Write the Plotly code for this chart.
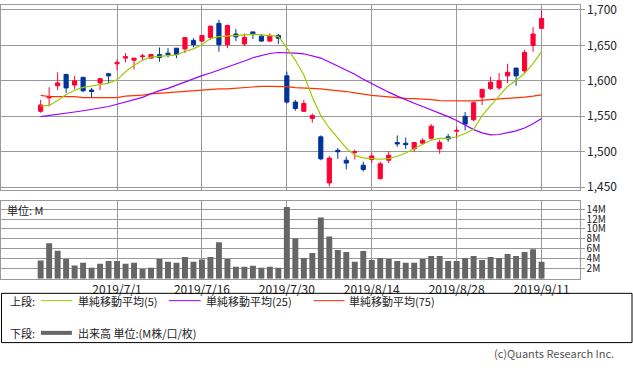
import plotly.graph_objects as go

# ---------------- data ----------------
dates = [
    "2019/6/18", "2019/6/19", "2019/6/20", "2019/6/21", "2019/6/24", "2019/6/25", "2019/6/26", "2019/6/27", "2019/6/28",
    "2019/7/1", "2019/7/2", "2019/7/3", "2019/7/4", "2019/7/5", "2019/7/8", "2019/7/9", "2019/7/10", "2019/7/11",
    "2019/7/12", "2019/7/16", "2019/7/17", "2019/7/18", "2019/7/19", "2019/7/22", "2019/7/23", "2019/7/24",
    "2019/7/25", "2019/7/26", "2019/7/29", "2019/7/30", "2019/7/31",
    "2019/8/1", "2019/8/2", "2019/8/5", "2019/8/6", "2019/8/7", "2019/8/8", "2019/8/9", "2019/8/13", "2019/8/14",
    "2019/8/15", "2019/8/16", "2019/8/19", "2019/8/20", "2019/8/21", "2019/8/22", "2019/8/23", "2019/8/26",
    "2019/8/27", "2019/8/28", "2019/8/29", "2019/8/30",
    "2019/9/2", "2019/9/3", "2019/9/4", "2019/9/5", "2019/9/6", "2019/9/9", "2019/9/10", "2019/9/11",
]

open_ = [1557, 1576, 1593, 1609, 1594, 1605, 1587, 1597, 1610, 1624,
         1632, 1629, 1634, 1632, 1637, 1639, 1646, 1645, 1657, 1656,
         1661, 1681, 1651, 1666, 1652, 1669, 1663, 1656, 1664, 1607,
         1570, 1557, 1547, 1521, 1456, 1502, 1488, 1499, 1481, 1489,
         1462, 1488, 1513, 1512, 1504, 1512, 1519, 1504, 1521, 1529,
         1550, 1545, 1577, 1589, 1590, 1607, 1618, 1614, 1650, 1674]
high = [1573, 1591, 1612, 1610, 1607, 1605, 1590, 1604, 1611, 1630,
        1639, 1632, 1638, 1638, 1647, 1646, 1646, 1661, 1660, 1664,
        1678, 1686, 1679, 1673, 1667, 1669, 1666, 1667, 1666, 1613,
        1573, 1573, 1554, 1523, 1494, 1505, 1493, 1503, 1486, 1498,
        1486, 1501, 1523, 1520, 1513, 1519, 1539, 1517, 1525, 1535,
        1556, 1571, 1588, 1606, 1611, 1624, 1618, 1644, 1676, 1699]
low = [1555, 1564, 1587, 1583, 1588, 1584, 1577, 1587, 1597, 1615,
       1626, 1616, 1628, 1631, 1627, 1633, 1632, 1639, 1647, 1655,
       1658, 1641, 1646, 1656, 1649, 1659, 1655, 1655, 1652, 1568,
       1558, 1556, 1541, 1488, 1451, 1490, 1475, 1489, 1472, 1484,
       1461, 1484, 1507, 1504, 1500, 1510, 1517, 1497, 1514, 1519,
       1530, 1543, 1566, 1587, 1587, 1597, 1593, 1611, 1641, 1674]
close = [1566, 1578, 1597, 1590, 1600, 1586, 1585, 1603, 1607, 1626,
         1634, 1632, 1635, 1637, 1633, 1637, 1637, 1661, 1651, 1664,
         1677, 1651, 1678, 1662, 1661, 1666, 1656, 1664, 1660, 1570,
         1561, 1568, 1551, 1490, 1491, 1500, 1484, 1500, 1475, 1494,
         1483, 1495, 1511, 1510, 1513, 1516, 1536, 1513, 1518, 1530,
         1539, 1569, 1588, 1598, 1600, 1612, 1607, 1640, 1666, 1688]

ma5 = [1564.4, 1565.3, 1572.2, 1580.7, 1586.7, 1590.8, 1592.7, 1594.5, 1596.8, 1601.4,
       1612.8, 1622.0, 1628.9, 1633.5, 1634.9, 1635.8, 1636.7, 1641.3, 1645.0, 1650.9,
       1659.6, 1662.4, 1663.3, 1664.2, 1665.1, 1665.6, 1664.7, 1663.3, 1662.8, 1646.5,
       1628.9, 1608.3, 1577.1, 1550.9, 1533.5, 1519.7, 1505.0, 1494.9, 1491.3, 1490.4,
       1489.4, 1490.4, 1493.6, 1498.2, 1504.5, 1510.6, 1516.5, 1518.8, 1518.8, 1521.1,
       1525.7, 1531.7, 1550.9, 1565.0, 1578.0, 1592.2, 1600.5, 1610.6, 1624.3, 1641.3]
ma25 = [1549.5, 1550.9, 1552.7, 1554.1, 1556.0, 1557.8, 1559.6, 1561.5, 1563.8, 1567.0,
        1570.5, 1573.9, 1576.6, 1581.7, 1586.2, 1589.4, 1594.0, 1598.6, 1602.8, 1607.3,
        1611.0, 1615.1, 1619.7, 1624.3, 1628.0, 1632.6, 1635.8, 1638.5, 1639.9, 1639.9,
        1639.0, 1638.1, 1634.9, 1632.1, 1626.6, 1621.1, 1615.1, 1609.2, 1602.3, 1595.9,
        1589.9, 1584.0, 1578.4, 1572.9, 1568.3, 1563.8, 1559.2, 1554.1, 1549.5, 1544.0,
        1537.2, 1531.2, 1526.6, 1523.9, 1524.3, 1527.3, 1529.4, 1533.5, 1539.4, 1546.8]
ma75 = [1579.5, 1577.7, 1577.7, 1577.7, 1577.7, 1576.3, 1576.3, 1576.3, 1576.3, 1576.3,
        1578.4, 1578.9, 1579.8, 1581.7, 1582.6, 1583.5, 1584.4, 1585.8, 1586.7, 1587.2,
        1587.6, 1588.5, 1588.5, 1589.4, 1590.8, 1591.3, 1592.2, 1592.2, 1592.2, 1591.7,
        1590.4, 1589.9, 1588.5, 1588.5, 1587.2, 1586.2, 1584.9, 1583.0, 1580.7, 1579.4,
        1578.4, 1577.1, 1576.1, 1575.2, 1574.8, 1574.3, 1573.4, 1572.0, 1571.6, 1571.6,
        1571.6, 1571.6, 1572.5, 1573.4, 1573.9, 1574.8, 1575.2, 1577.1, 1578.4, 1580.3]

volume_m = [3.64, 7.13, 5.6, 3.98, 2.66, 3.19, 2.2, 2.99, 3.58, 3.58,
            2.99, 3.19, 1.94, 2.2, 3.98, 3.39, 3.19, 4.37, 3.39, 3.84,
            4.37, 7.32, 3.98, 2.4, 2.4, 2.6, 2.2, 2.4, 2.2, 14.4,
            8.1, 4.17, 5.16, 12.3, 8.5, 5.75, 5.35, 3.39, 5.55, 3.78,
            4.17, 3.98, 3.58, 3.19, 3.19, 3.98, 4.57, 4.57, 3.58, 3.58,
            4.17, 4.57, 3.78, 4.37, 4.17, 4.96, 4.57, 5.35, 5.94, 3.39]

x_tick_dates = ["2019/7/1", "2019/7/16", "2019/7/30", "2019/8/14", "2019/8/28", "2019/9/11"]
price_ticks = [1450, 1500, 1550, 1600, 1650, 1700]
vol_ticks = [2, 4, 6, 8, 10, 12, 14]
vol_tick_labels = ["2M", "4M", "6M", "8M", "10M", "12M", "14M"]

# ---------------- styling ----------------
W, H = 633, 371
FONT = "Noto Sans CJK JP"
RED = "#ff0033"
BLUE = "#003399"
GRID = "#999999"
TXT = "#222222"

def py(px):
    return 1 - px / H

def pxx(px):
    return px / W

fig = go.Figure()

fig.add_trace(go.Candlestick(
    x=dates, open=open_, high=high, low=low, close=close,
    increasing=dict(line=dict(color=RED, width=1), fillcolor=RED),
    decreasing=dict(line=dict(color=BLUE, width=1), fillcolor=BLUE),
    whiskerwidth=0, xaxis="x", yaxis="y", showlegend=False, hoverinfo="skip",
))
fig.add_trace(go.Scatter(x=dates, y=ma75, mode="lines", line=dict(color="#ff3300", width=1.2),
                         xaxis="x", yaxis="y", showlegend=False, hoverinfo="skip"))
fig.add_trace(go.Scatter(x=dates, y=ma25, mode="lines", line=dict(color="#9900ff", width=1.2),
                         xaxis="x", yaxis="y", showlegend=False, hoverinfo="skip"))
fig.add_trace(go.Scatter(x=dates, y=ma5, mode="lines", line=dict(color="#99cc00", width=1.2),
                         xaxis="x", yaxis="y", showlegend=False, hoverinfo="skip"))

fig.add_trace(go.Bar(x=dates, y=volume_m, marker=dict(color="#666666", line=dict(width=0)),
                     width=0.7, xaxis="x2", yaxis="y2", showlegend=False, hoverinfo="skip"))

xdom = [0, 579.5 / W]
xrange_ = [-4.67, 63.48]

common_x = dict(
    type="category", categoryorder="array", categoryarray=dates,
    range=xrange_, domain=xdom, tickmode="array", tickvals=x_tick_dates,
    showgrid=True, gridcolor=GRID, gridwidth=1,
    showline=True, linecolor=GRID, linewidth=1, mirror=True,
    zeroline=False, fixedrange=True,
)

fig.update_layout(
    width=W, height=H,
    margin=dict(l=0, r=0, t=0, b=0),
    paper_bgcolor="white", plot_bgcolor="white",
    font=dict(family=FONT, size=12, color=TXT),
    showlegend=False,
    bargap=0.3,
    xaxis=dict(common_x, anchor="y", showticklabels=False, ticks="",
               rangeslider=dict(visible=False)),
    yaxis=dict(domain=[py(190), 1.0], range=[1445.5, 1706.9], side="right",
               tickmode="array", tickvals=price_ticks, tickformat=",d",
               ticks="outside", ticklen=4, tickcolor=GRID,
               ticklabeloverflow="allow",
               showgrid=True, gridcolor=GRID, gridwidth=1,
               showline=True, linecolor=GRID, linewidth=1, mirror=True,
               zeroline=False, tickfont=dict(size=12, color=TXT), anchor="x",
               fixedrange=True),
    xaxis2=dict(common_x, anchor="y2", matches="x", showticklabels=True,
                ticktext=x_tick_dates, ticks="", tickfont=dict(size=12, color=TXT)),
    yaxis2=dict(domain=[py(280.5), py(201)], range=[0, 15.6], side="right",
                tickmode="array", tickvals=vol_ticks, ticktext=vol_tick_labels,
                ticks="outside", ticklen=4, tickcolor=GRID,
                ticklabeloverflow="allow",
                showgrid=True, gridcolor=GRID, gridwidth=1,
                showline=True, linecolor=GRID, linewidth=1, mirror=True,
                zeroline=False, tickfont=dict(size=10, color=TXT), anchor="x2",
                fixedrange=True),
)

shapes = []
annotations = []

# legend box
shapes.append(dict(type="rect", xref="paper", yref="paper",
                   x0=pxx(0.5), x1=pxx(632), y0=py(346), y1=py(295.5),
                   line=dict(color="#000000", width=1), fillcolor="rgba(0,0,0,0)"))

def seg(x0, x1, y, color, width):
    shapes.append(dict(type="line", xref="paper", yref="paper",
                       x0=pxx(x0), x1=pxx(x1), y0=py(y), y1=py(y),
                       line=dict(color=color, width=width)))

def txt(x, y, s, size=11, anchor="left", color=TXT):
    annotations.append(dict(xref="paper", yref="paper", x=pxx(x), y=py(y), text=s,
                            showarrow=False, xanchor=anchor, yanchor="middle",
                            font=dict(family=FONT, size=size, color=color)))

txt(7, 303, "上段:")
seg(40, 71, 303, "#99cc00", 1)
txt(75, 303, "単純移動平均(5)")
seg(168, 200, 303, "#9900ff", 1)
txt(203, 303, "単純移動平均(25)")
seg(313, 344, 303, "#ff3300", 1)
txt(347, 303, "単純移動平均(75)")

txt(7, 336, "下段:")
seg(40, 71, 336, "#666666", 4)
txt(75, 336, "出来高 単位:(M株/口/枚)")

txt(4, 210, "単位: M")
txt(616, 357, "(c)Quants Research Inc.", size=11, anchor="right", color="#555555")

fig.update_layout(shapes=shapes, annotations=annotations)

fig.write_html("out.html", config={"displayModeBar": False},
               post_script="document.body.style.margin='0';")
